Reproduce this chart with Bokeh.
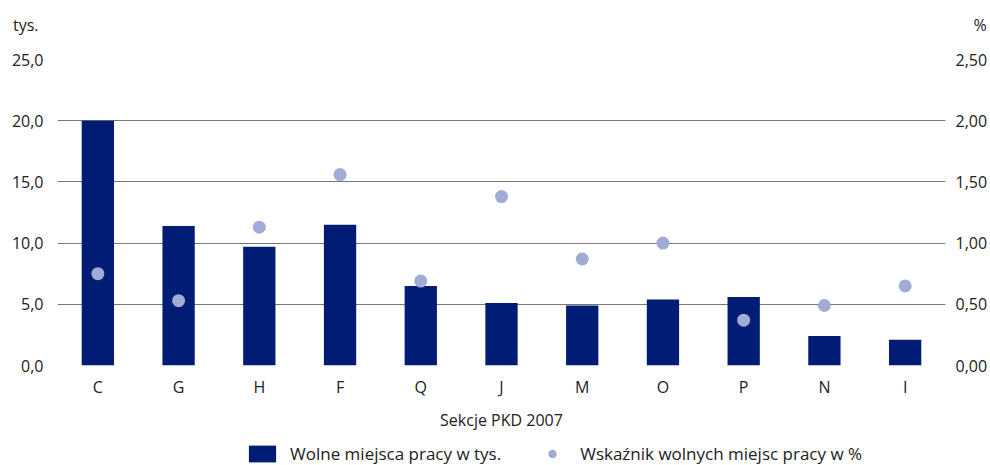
from bokeh.plotting import figure
from bokeh.layouts import column
from bokeh.models import (Range1d, LinearAxis, FixedTicker, Legend, LegendItem)
from bokeh.embed import file_html
from bokeh.resources import INLINE

# ---- data ----
sections = ["C", "G", "H", "F", "Q", "J", "M", "O", "P", "N", "I"]
vacancies_k = [20.0, 11.4, 9.7, 11.5, 6.5, 5.1, 4.9, 5.4, 5.6, 2.4, 2.1]
vacancy_rate = [0.75, 0.53, 1.13, 1.56, 0.69, 1.38, 0.87, 1.00, 0.37, 0.49, 0.65]
left_ticks = [0, 5, 10, 15, 20, 25]
left_tick_labels = ["0,0", "5,0", "10,0", "15,0", "20,0", "25,0"]
right_ticks = [0, 0.5, 1.0, 1.5, 2.0, 2.5]
right_tick_labels = ["0,00", "0,50", "1,00", "1,50", "2,00", "2,50"]
x_title = "Sekcje PKD 2007"
left_unit = "tys."
right_unit = "%"
bar_label = "Wolne miejsca pracy w tys."
dot_label = "Wskaźnik wolnych miejsc pracy w %"

FONT = "Open Sans"
FS = "16px"
TXT = "#222222"
BAR = "#001c74"
DOT = "#a0acd5"
GRID = "#777777"
W = 990
BL, BR = 57, 45


def clean_axis(ax):
    ax.axis_line_color = None
    ax.major_tick_line_color = None
    ax.minor_tick_line_color = None
    ax.major_tick_out = 0
    ax.major_tick_in = 0
    ax.minor_tick_out = 0
    ax.major_label_text_font = FONT
    ax.major_label_text_font_size = FS
    ax.major_label_text_color = TXT
    ax.axis_label_text_font = FONT
    ax.axis_label_text_font_size = FS
    ax.axis_label_text_font_style = "normal"
    ax.axis_label_text_color = TXT


def style_fig(f):
    f.outline_line_color = None
    f.background_fill_color = "white"
    f.border_fill_color = "white"


# ---- header: unit labels as axis titles ----
head = figure(width=W, height=48, x_range=Range1d(0, 1), y_range=Range1d(0, 1),
              output_backend="svg", toolbar_location=None,
              x_axis_location=None, y_axis_location="left",
              min_border_left=BL, min_border_right=BR, min_border_top=0, min_border_bottom=0)
style_fig(head)
head.grid.visible = False
hl = head.yaxis[0]
hl.ticker = FixedTicker(ticks=[])
hl.axis_label = left_unit
hl.axis_label_orientation = "horizontal"
hl.axis_label_standoff = 19
clean_axis(hl)
hr = LinearAxis(ticker=FixedTicker(ticks=[]), axis_label=right_unit,
                axis_label_orientation="horizontal", axis_label_standoff=28)
clean_axis(hr)
head.add_layout(hr, "right")

# ---- main chart ----
p = figure(x_range=sections, y_range=Range1d(0, 25), width=W, height=385,
           output_backend="svg", toolbar_location=None,
           min_border_left=BL, min_border_right=BR, min_border_top=11, min_border_bottom=66)
style_fig(p)
p.extra_y_ranges = {"pct": Range1d(0, 2.5)}

bars = p.vbar(x=sections, top=vacancies_k, width=0.4, fill_color=BAR, line_color=None)
dots = p.scatter(x=sections, y=vacancy_rate, size=13, fill_color=DOT, line_color=None,
                 y_range_name="pct")

ya = p.yaxis[0]
ya.ticker = FixedTicker(ticks=left_ticks)
ya.major_label_overrides = {t: s for t, s in zip(left_ticks, left_tick_labels)}
ya.major_label_standoff = 14
clean_axis(ya)

ra = LinearAxis(y_range_name="pct", ticker=FixedTicker(ticks=right_ticks))
ra.major_label_overrides = {t: s for t, s in zip(right_ticks, right_tick_labels)}
ra.major_label_standoff = 10
clean_axis(ra)
p.add_layout(ra, "right")

xa = p.xaxis[0]
xa.major_label_standoff = 10
xa.axis_label = x_title
xa.axis_label_standoff = 8
clean_axis(xa)

p.xgrid.grid_line_color = None
p.ygrid.ticker = FixedTicker(ticks=left_ticks)
p.ygrid.grid_line_color = GRID
p.ygrid.grid_line_width = 1

# ---- legend strip (proxy glyphs lie outside its visible y range) ----
foot = figure(width=W, height=32, x_range=sections, y_range=Range1d(100, 101),
              output_backend="svg", toolbar_location=None,
              x_axis_location=None, y_axis_location=None,
              min_border_left=BL, min_border_right=BR, min_border_top=0, min_border_bottom=0)
style_fig(foot)
foot.grid.visible = False
proxy_bar = foot.vbar(x=sections, top=vacancies_k, width=0.4, fill_color=BAR, line_color=None)
proxy_dot = foot.scatter(x=sections, y=vacancy_rate, size=13, fill_color=DOT, line_color=None)
legend = Legend(items=[LegendItem(label=bar_label, renderers=[proxy_bar]),
                       LegendItem(label=dot_label, renderers=[proxy_dot])],
                orientation="horizontal", location=(188, 0),
                border_line_color=None, background_fill_alpha=0,
                padding=0, margin=0, spacing=34,
                glyph_width=34, glyph_height=21, label_standoff=11,
                label_text_font=FONT, label_text_font_size="17px",
                label_text_color=TXT, label_height=24)
foot.add_layout(legend, "center")

layout = column(head, p, foot, spacing=0)
open("out.html", "w").write(file_html(layout, INLINE))
